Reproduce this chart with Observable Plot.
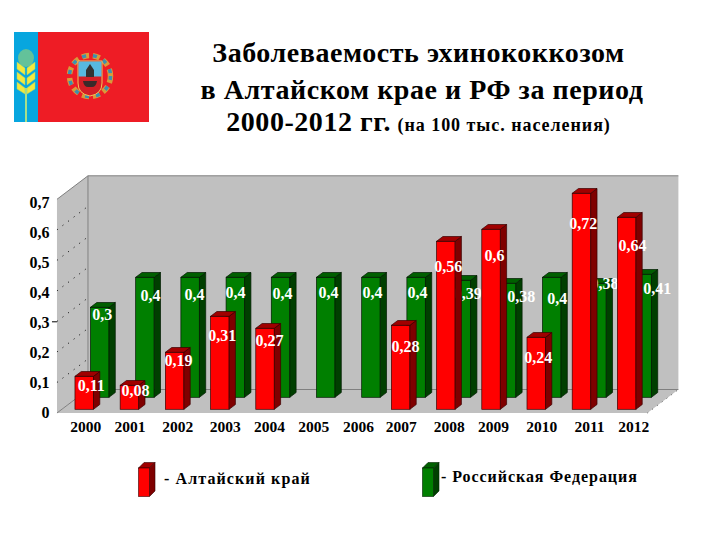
<!DOCTYPE html>
<html lang="ru">
<head>
<meta charset="utf-8">
<script src="https://cdn.jsdelivr.net/npm/d3@7"></script>
<script src="https://cdn.jsdelivr.net/npm/@observablehq/plot@0.6"></script>
<style>
html,body{margin:0;padding:0;background:#fff;}
#page{position:relative;width:720px;height:540px;overflow:hidden;font-family:"Liberation Serif",serif;color:#000;}
.abs{position:absolute;white-space:nowrap;}
.tl{font-size:28px;font-weight:bold;line-height:32px;letter-spacing:.55px;transform:translateX(-50%);}
.lg{font-size:16px;font-weight:bold;line-height:20px;}
#plot{position:absolute;left:0;top:170px;}
</style>
</head>
<body>
<div id="page">
  <svg class="abs" style="left:14px;top:32px" width="135" height="90" viewBox="14 32 135 90">
    <rect x="14" y="32" width="135" height="90" fill="#ee1c25"/>
    <rect x="14" y="32" width="24" height="90" fill="#07a6df"/>
    <line x1="26" y1="88" x2="26" y2="122" stroke="#a6e08a" stroke-width="2"/>
    <ellipse cx="26" cy="58" rx="8" ry="9" fill="#63c29a"/>
    <g fill="#f3e83c" stroke="#9ad07a" stroke-width=".5">
      <polygon points="17,62 25,68 25,75 17,69"/><polygon points="35,62 27,68 27,75 35,69"/>
      <polygon points="17,72 25,78 25,85 17,79"/><polygon points="35,72 27,78 27,85 35,79"/>
      <polygon points="17,82 25,88 25,94 17,89"/><polygon points="35,82 27,88 27,94 35,89"/>
    </g>
    <circle cx="90" cy="76" r="20.5" fill="none" stroke="#d99a3a" stroke-width="5.5" stroke-dasharray="7 4"/>
    <circle cx="90" cy="76" r="20.5" fill="none" stroke="#3d8fb0" stroke-width="3.5" stroke-dasharray="4 7"/>
    <path d="M78 61H102V83Q102 94 90 96Q78 94 78 83Z" fill="#d41f26" stroke="#f2c65a" stroke-width="1"/>
    <rect x="78.5" y="61.5" width="23" height="15" fill="#58b9e0"/>
    <path d="M86 77V70L90 64L94 70V77Z" fill="#333"/>
    <path d="M83 81H97Q96 87 92 87H88Q84 87 83 81Z" fill="#3a2a2a"/>
  </svg>

  <div class="abs tl" style="left:418.5px;top:37px">Заболеваемость эхинококкозом</div>
  <div class="abs tl" style="left:422px;top:74px">в Алтайском крае и РФ за период</div>
  <div class="abs tl" style="left:418.5px;top:106px;">2000-2012 гг. <span style="font-size:18px;letter-spacing:.95px;margin-left:-1px">(на 100 тыс. населения)</span></div>

  <div id="plot"></div>

  <svg class="abs" style="left:136px;top:460px" width="22" height="38">
    <polygon points="2.5,8 8,2.5 19,2.5 13.5,8" fill="#a00000" stroke="#300" stroke-width=".6"/>
    <polygon points="13.5,8 19,2.5 19,31 13.5,36.5" fill="#7f0000" stroke="#300" stroke-width=".6"/>
    <rect x="2.5" y="8" width="11" height="28.5" fill="#ff0000" stroke="#300" stroke-width=".6"/>
  </svg>
  <div class="abs lg" style="left:164px;top:469px;letter-spacing:1.1px">- Алтайский край</div>

  <svg class="abs" style="left:420px;top:460px" width="22" height="38">
    <polygon points="2.5,8 8,2.5 19,2.5 13.5,8" fill="#006000" stroke="#020" stroke-width=".6"/>
    <polygon points="13.5,8 19,2.5 19,31 13.5,36.5" fill="#004000" stroke="#020" stroke-width=".6"/>
    <rect x="2.5" y="8" width="11" height="28.5" fill="#007f00" stroke="#020" stroke-width=".6"/>
  </svg>
  <div class="abs lg" style="left:441px;top:467px;letter-spacing:.95px">- Российская Федерация</div>
</div>

<script>
const years = ["2000","2001","2002","2003","2004","2005","2006","2007","2008","2009","2010","2011","2012"];
const altaiValues = [0.11,0.08,0.19,0.31,0.27,null,null,0.28,0.56,0.6,0.24,0.72,0.64];
const russiaValues = [0.3,0.4,0.4,0.4,0.4,0.4,0.4,0.4,0.39,0.38,0.4,0.38,0.41];
const yTicks = [0,0.1,0.2,0.3,0.4,0.5,0.6,0.7];

// Hand-placed label offsets of the original slide (style only, in pixels).
const altaiNudge = [[6.5,9.4],[5.5,5.4],[3.4,8.4],[1.9,18.7],[4,12.4],[0,0],[0,0],[4.4,21.4],[1.9,25.4],[3,26.4],[1.5,20.4],[1.3,29.7],[5.4,27.7]];
const russiaNudge = [[17.5,-5.3],[20.5,5.7],[19.4,4.7],[15.2,2.7],[17,4.4],[17.8,2.7],[16.6,2.7],[16.4,2.7],[21.4,.7],[29.6,1.4],[20.4,8.7],[22.5,-12.3],[30,1.7]];
const tickNudge = [1,0,2.5,5,4,3,2.5,0,3,2,5,7.5,6.5].map(dx => [dx, 0]);

const comma = v => String(v).replace(".", ",");
const toRows = values => years.map((year, i) => ({year, value: values[i], order: i})).filter(d => d.value != null);
const altai = toRows(altaiValues);
const russia = toRows(russiaValues);

const NS = "http://www.w3.org/2000/svg";
function poly(parent, pts, attrs) {
  const p = document.createElementNS(NS, "polygon");
  p.setAttribute("points", pts.map(a => a.join(",")).join(" "));
  for (const k in attrs) p.setAttribute(k, attrs[k]);
  parent.appendChild(p);
  return p;
}
function line(parent, a, b, attrs) {
  const l = document.createElementNS(NS, "line");
  l.setAttribute("x1", a[0]); l.setAttribute("y1", a[1]);
  l.setAttribute("x2", b[0]); l.setAttribute("y2", b[1]);
  for (const k in attrs) l.setAttribute(k, attrs[k]);
  parent.appendChild(l);
}

// Adds the side and top faces to each bar that the library placed.
const extrude = (side, top, dx = 6.3, dy = -4.8) => (index, scales, values, dims, context, next) => {
  const g = next(index, scales, values, dims, context);
  for (const r of [...g.querySelectorAll("rect")]) {
    const x = +r.getAttribute("x"), y = +r.getAttribute("y");
    const w = +r.getAttribute("width"), h = +r.getAttribute("height");
    poly(g, [[x+w,y],[x+w+dx,y+dy],[x+w+dx,y+h+dy],[x+w,y+h]], {fill: side});
    poly(g, [[x,y],[x+dx,y+dy],[x+w+dx,y+dy],[x+w,y]], {fill: top});
  }
  return g;
};

// Shifts each label by its hand-placed offset.
const nudge = offsetOf => (index, scales, values, dims, context, next) => {
  const g = next(index, scales, values, dims, context);
  for (const t of g.querySelectorAll("text")) {
    const o = offsetOf(t.__data__);
    t.setAttribute("transform", (t.getAttribute("transform") || "") + ` translate(${o[0]},${o[1]})`);
  }
  return g;
};

// The grey box of the 3-D chart, positioned from the scales.
function box(index, {x, y}) {
  const g = document.createElementNS(NS, "g");
  const dx = 31, dy = -23.5, floorDrop = 3.7;
  const L = x(years[0]) - 18, R = x(years[years.length-1]) + 30;
  const T = y(0.7), B = y(0) + floorDrop;
  const gray = "#c0c0c0", edge = "#808080";
  poly(g, [[L+dx,T+dy],[R+dx,T+dy],[R+dx,B+dy],[L+dx,B+dy]], {fill: gray});
  poly(g, [[L,T],[L+dx,T+dy],[L+dx,B+dy],[L,B]], {fill: gray});
  poly(g, [[L,B],[L+dx,B+dy],[R+dx,B+dy],[R,B]], {fill: gray});
  line(g, [L+dx,T+dy], [R+dx,T+dy], {stroke: edge});
  line(g, [L+dx,T+dy], [L+dx,B+dy], {stroke: edge});
  line(g, [L+dx,B+dy], [R+dx,B+dy], {stroke: edge});
  line(g, [L,T], [L+dx,T+dy], {stroke: edge});
  line(g, [L,B], [L+dx,B+dy], {stroke: edge});
  for (const v of yTicks.slice(1, -1)) {
    const front = y(v) + floorDrop * (1 - v / 0.7);
    line(g, [L, front], [L+dx, front+dy], {stroke: "#000", "stroke-width": 1, "stroke-dasharray": "1 6"});
  }
  line(g, [R, B], [R+dx, B+dy], {stroke: "#555", "stroke-width": 1, "stroke-dasharray": "1 5"});
  line(g, [L-5, y(0.3)+2.5], [L, y(0.3)+2.5], {stroke: "#000"});
  return g;
}

const labelFont = {fontFamily: "Liberation Serif", fontWeight: "bold", fontSize: 16, fill: "#fff"};

const chart = Plot.plot({
  width: 720,
  height: 270,
  marginLeft: 52,
  marginRight: 0,
  marginTop: 0,
  marginBottom: 22,
  style: {background: "transparent", fontFamily: "Liberation Serif", fontWeight: "bold", color: "#000", overflow: "visible"},
  x: {type: "band", domain: years, range: [48.3, 662.6], padding: 0.59, align: 0.5, round: false, label: null},
  y: {domain: [0, 0.8], range: [239.3, -0.7], label: null},
  marks: [
    box,
    Plot.barY(russia, {x: "year", y: "value", fill: "#007f00", stroke: "#001a00", strokeWidth: .7, dx: 15.5, dy: -12, render: extrude("#003f00", "#005f00")}),
    Plot.text(russia, {x: "year", y: "value", text: d => comma(d.value), ...labelFont, render: nudge(i => russiaNudge[russia[i].order])}),
    Plot.barY(altai, {x: "year", y: "value", fill: "#ff0000", stroke: "#3a0000", strokeWidth: .7, render: extrude("#7f0000", "#a00000")}),
    Plot.text(altai, {x: "year", y: "value", text: d => comma(d.value), ...labelFont, render: nudge(i => altaiNudge[altai[i].order])}),
    Plot.axisY({ticks: yTicks, tickFormat: comma, tickSize: 0, tickPadding: 3, dy: 3.4, fontSize: 16, fill: "#000", label: null}),
    Plot.axisX({ticks: years, tickSize: 0, tickPadding: 2, fontSize: 15.5, fill: "#000", label: null, render: nudge(i => tickNudge[i] || [0, 0])})
  ]
});
document.getElementById("plot").appendChild(chart);
</script>
</body>
</html>
